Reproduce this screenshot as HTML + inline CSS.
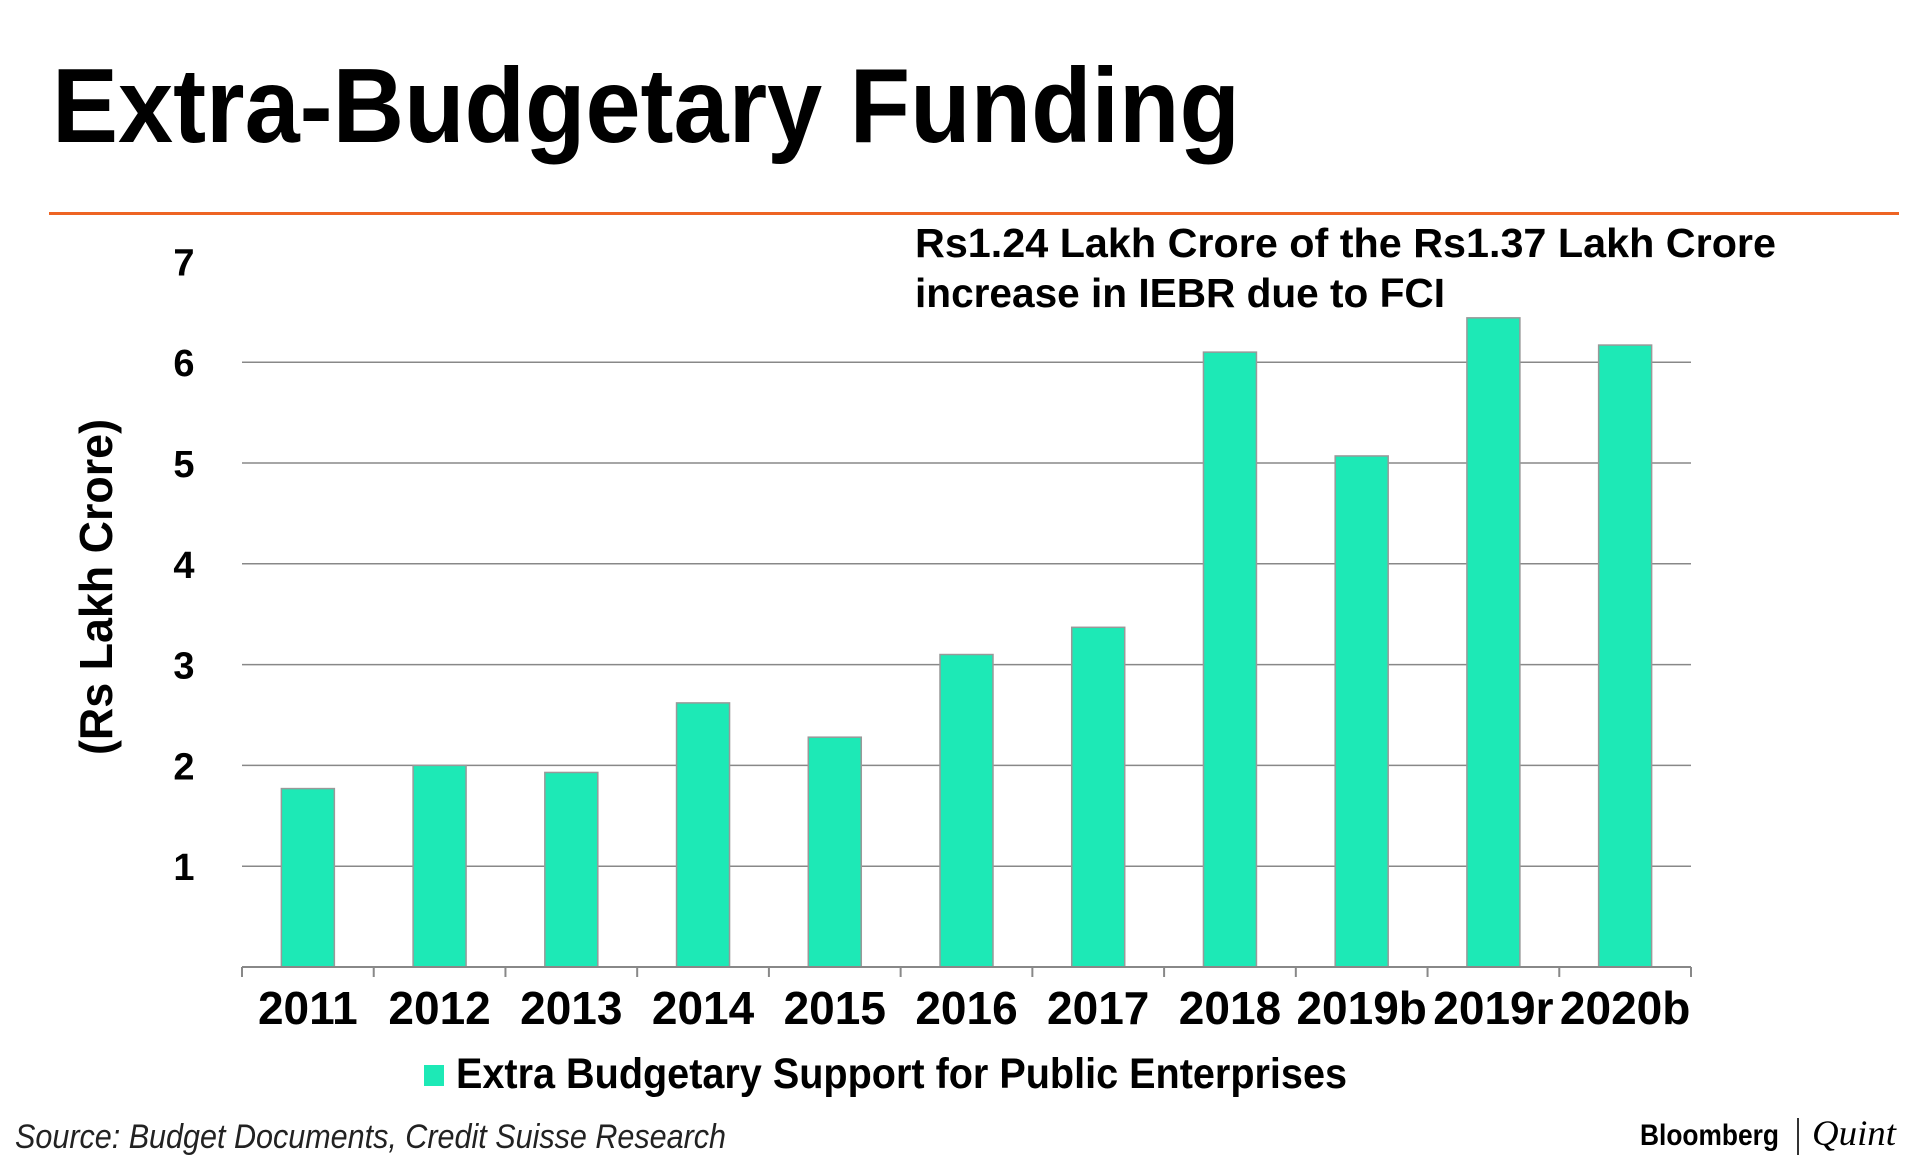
<!DOCTYPE html>
<html><head><meta charset="utf-8"><style>
html,body{margin:0;padding:0;background:#fff;}
svg{display:block;}
text{font-family:"Liberation Sans Narrow","Liberation Sans",sans-serif;}
</style></head><body>
<svg id="chart" width="1920" height="1168" viewBox="0 0 1920 1168">
<text x="52" y="142" font-size="106" font-weight="bold" textLength="1188" lengthAdjust="spacingAndGlyphs">Extra-Budgetary Funding</text>
<rect x="49" y="212" width="1850" height="3" fill="#ee6423"/>
<text x="915" y="257" font-size="41" font-weight="bold" textLength="861" lengthAdjust="spacingAndGlyphs">Rs1.24 Lakh Crore of the Rs1.37 Lakh Crore</text>
<text x="915" y="307" font-size="41" font-weight="bold" textLength="530" lengthAdjust="spacingAndGlyphs">increase in IEBR due to FCI</text>
<text transform="translate(112,587) rotate(-90)" text-anchor="middle" font-size="46" font-weight="bold" textLength="336" lengthAdjust="spacingAndGlyphs">(Rs Lakh Crore)</text>
<g id="grid"></g><g id="bars"></g><g id="axis"></g>
<rect x="424" y="1065" width="20" height="21" fill="#1de9b6"/>
<text x="456" y="1088" font-size="43" font-weight="bold" textLength="891" lengthAdjust="spacingAndGlyphs">Extra Budgetary Support for Public Enterprises</text>
<text x="15" y="1148" font-size="34" font-style="italic" fill="#222" textLength="711" lengthAdjust="spacingAndGlyphs">Source: Budget Documents, Credit Suisse Research</text>
<text x="1640" y="1145" font-size="30" font-weight="bold" style="font-family:'Liberation Sans',sans-serif" textLength="139" lengthAdjust="spacingAndGlyphs">Bloomberg</text>
<rect x="1797" y="1118" width="2" height="37" fill="#333"/>
<text x="1812" y="1145" font-size="36" font-style="italic" style="font-family:'Liberation Serif',serif" textLength="84" lengthAdjust="spacingAndGlyphs">Quint</text>
</svg>
<script>
const categories=["2011","2012","2013","2014","2015","2016","2017","2018","2019b","2019r","2020b"];
const values=[1.77,2.0,1.93,2.62,2.28,3.1,3.37,6.1,5.07,6.44,6.17];
const yTicks=[1,2,3,4,5,6,7];
const NS="http://www.w3.org/2000/svg";
const L=242,R=1691,B=967,unit=100.8;
const cw=(R-L)/categories.length, bw=53;
const y=v=>B-v*unit, xc=i=>L+cw*(i+0.5);
function mk(tag,attrs,parent){const e=document.createElementNS(NS,tag);for(const k in attrs)e.setAttribute(k,attrs[k]);parent.appendChild(e);return e;}
const grid=document.getElementById('grid'),bars=document.getElementById('bars'),axis=document.getElementById('axis');
yTicks.forEach(t=>{
  if(t<7){const g=mk('line',{x1:L,x2:R,y1:y(t),y2:y(t),stroke:'#888','stroke-width':1.5},grid);
  
  }
  const tx=mk('text',{x:184,y:y(t)+14,'text-anchor':'middle','font-size':38,'font-weight':'bold'},grid);
  tx.textContent=t;
  
  
});
values.forEach((v,i)=>{
  const r=mk('rect',{x:xc(i)-bw/2,y:y(v),width:bw,height:B-y(v),fill:'#1de9b6',stroke:'#999','stroke-width':1.5},bars);
  
  
});
const ax=mk('line',{x1:L,x2:R,y1:B,y2:B,stroke:'#888','stroke-width':2},axis);


for(let i=0;i<=categories.length;i++){
  const tk=mk('line',{x1:L+cw*i,x2:L+cw*i,y1:B,y2:B+10,stroke:'#888','stroke-width':2},axis);
  
  
}
categories.forEach((c,i)=>{
  const t=mk('text',{x:xc(i),y:1024,'text-anchor':'middle','font-size':46,'font-weight':'bold'},axis);
  t.textContent=c;
  
  
});
</script>
</body></html>
